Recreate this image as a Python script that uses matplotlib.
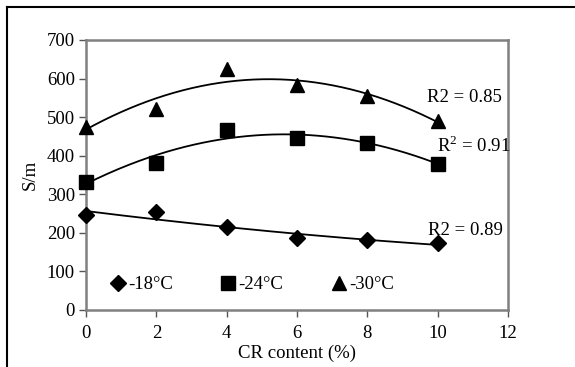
import matplotlib.pyplot as plt
from matplotlib.lines import Line2D
import numpy as np

plt.rcParams['font.family'] = ['Liberation Serif', 'DejaVu Serif']
plt.rcParams['mathtext.fontset'] = 'custom'
plt.rcParams['mathtext.rm'] = 'Liberation Serif'

cr_content = [0, 2, 4, 6, 8, 10]
sm_18 = [246, 255, 214, 186, 181, 173]
sm_24 = [333, 382, 467, 445, 434, 379]
sm_30 = [475, 522, 626, 583, 554, 491]
series_labels = ["-18°C", "-24°C", "-30°C"]
r2_labels = ["R2 = 0.89", r"R$^{\mathrm{2}}$ = 0.91", "R2 = 0.85"]


def main():
    fig = plt.figure(figsize=(5.75, 3.67), dpi=100)
    ax = fig.add_axes([86 / 575, 1 - 310 / 367, 422 / 575, 270 / 367])

    fs = 13.5
    styles = [('D', 8), ('s', 9.5), ('^', 10)]
    all_data = [sm_18, sm_24, sm_30]
    xs = np.asarray(cr_content, float)
    xfit = np.linspace(0, 10, 200)
    handles = []
    for data, (mk, ms), lab in zip(all_data, styles, series_labels):
        h, = ax.plot(xs, data, linestyle='none', marker=mk, markersize=ms,
                     color='black', label=lab, clip_on=False, zorder=3)
        handles.append(h)
        coef = np.polyfit(xs, data, 2)
        ax.plot(xfit, np.polyval(coef, xfit), color='black', lw=1.3,
                zorder=2)

    # R2 annotations
    ax.text(9.72, 207, r2_labels[0], fontsize=fs, va='center')
    ax.text(9.98, 425, r2_labels[1], fontsize=fs, va='center')
    ax.text(9.70, 552, r2_labels[2], fontsize=fs, va='center')

    ax.set_xlim(0, 12)
    ax.set_ylim(0, 700)
    ax.set_xticks(range(0, 13, 2))
    ax.set_yticks(range(0, 701, 100))
    ax.tick_params(direction='out', length=5, width=1, color='#555555',
                   labelsize=fs)
    ax.tick_params(axis='x', pad=6)
    ax.tick_params(axis='y', pad=3)
    for sp in ax.spines.values():
        sp.set_color('#808080')
        sp.set_linewidth(1.8)

    ax.set_xlabel("CR content (%)", fontsize=fs, labelpad=2)
    ax.set_ylabel("S/m", fontsize=fs, labelpad=6)

    ax.legend(handles=handles, loc='lower left', ncol=3, frameon=False,
              fontsize=fs, handlelength=0.7, handletextpad=0.2,
              columnspacing=2.6, bbox_to_anchor=(0.02, 0.0))

    # outer frame (left and top edges only)
    fig.add_artist(Line2D([7 / 575, 7 / 575], [0, 1 - 7 / 367],
                          transform=fig.transFigure, color='black', lw=1.5))
    fig.add_artist(Line2D([7 / 575, 1], [1 - 7 / 367, 1 - 7 / 367],
                          transform=fig.transFigure, color='black', lw=1.5))

    fig.savefig("out.png", dpi=100)


if __name__ == "__main__":
    main()
